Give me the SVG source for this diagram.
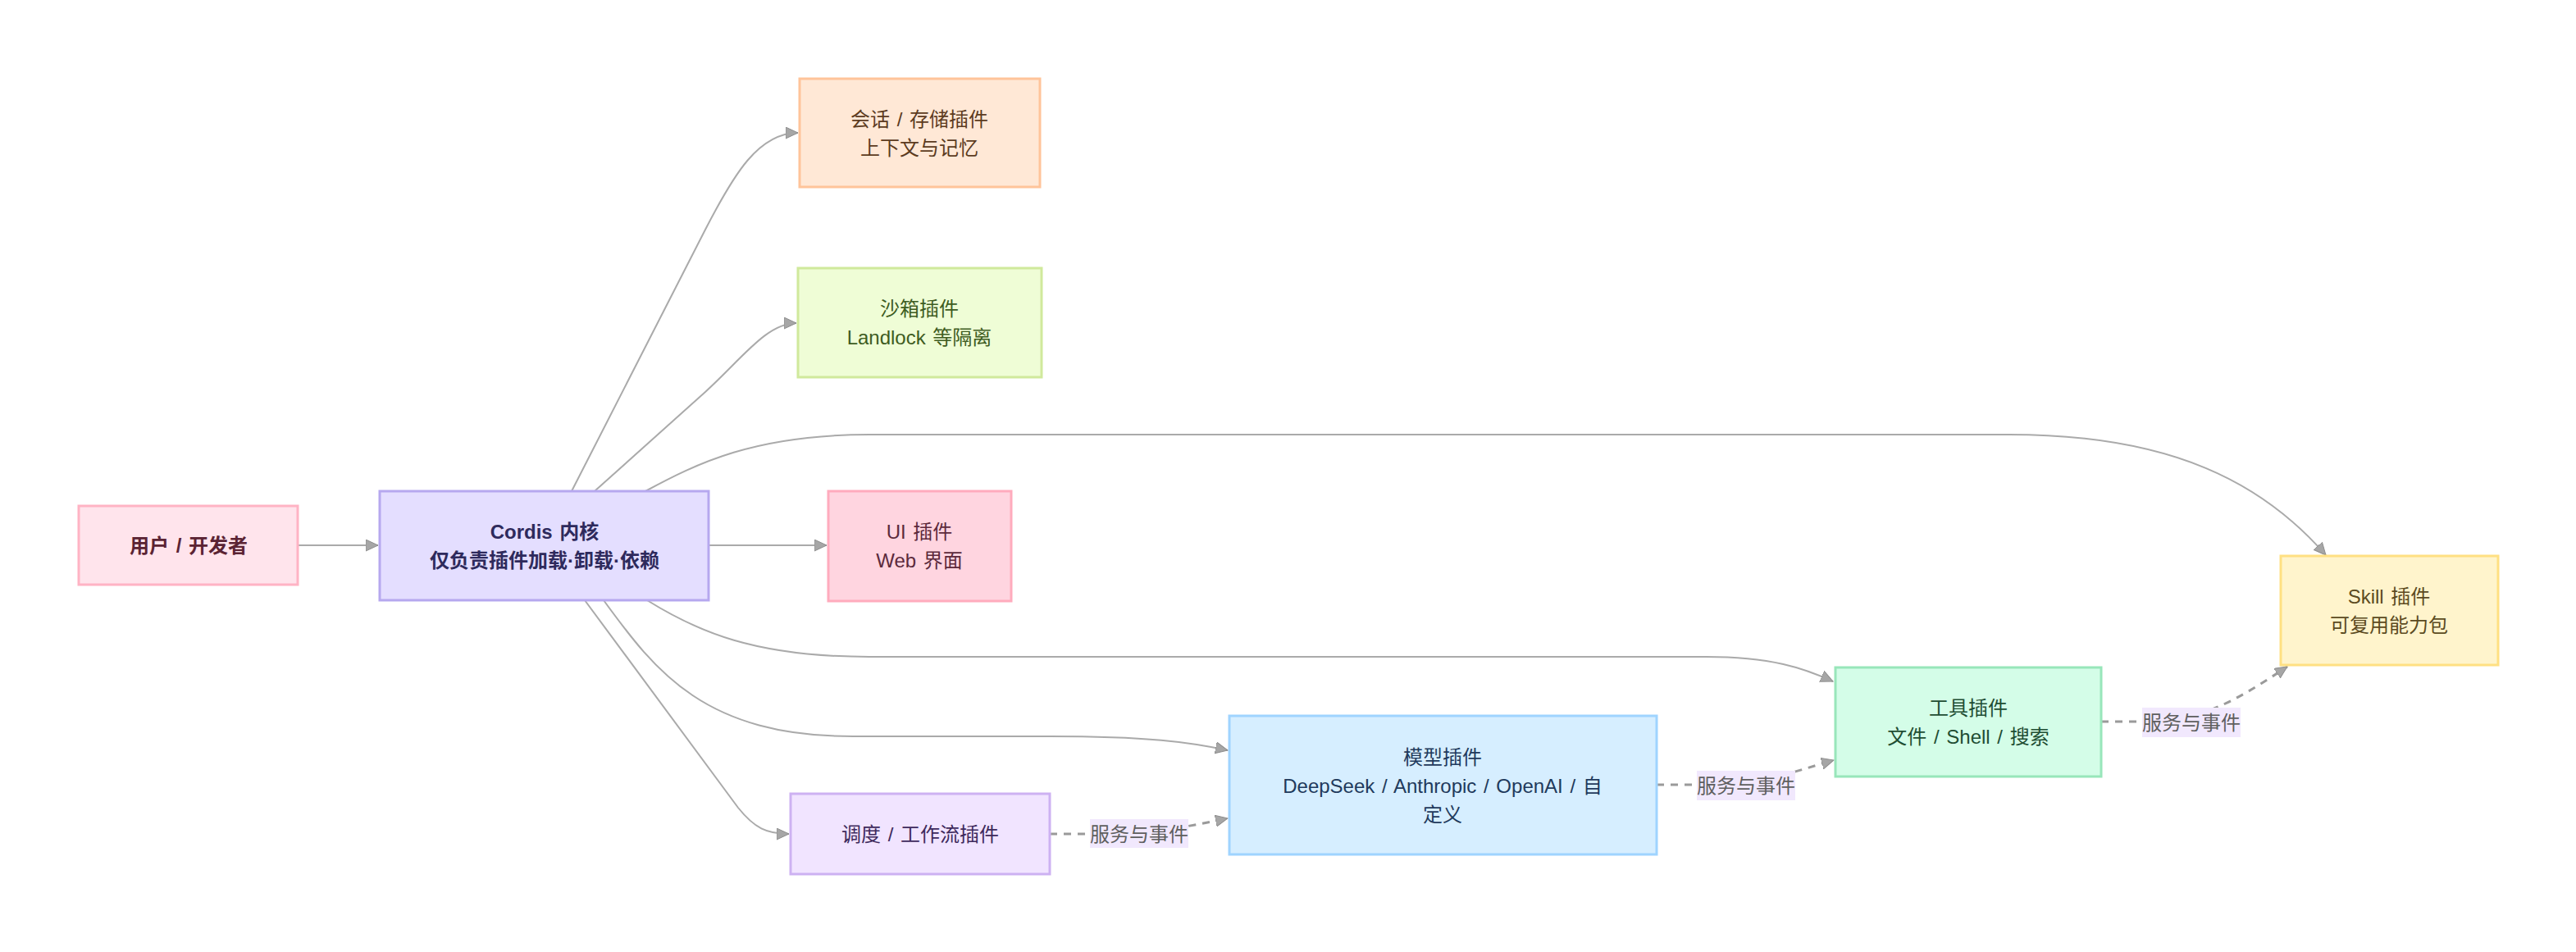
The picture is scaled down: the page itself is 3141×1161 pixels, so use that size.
<svg xmlns="http://www.w3.org/2000/svg" width="3141" height="1161" viewBox="0 0 3141 1161">
<style>
text{font-family:"Liberation Sans","Noto Sans CJK SC",sans-serif;font-size:24px;text-anchor:middle;dominant-baseline:central;word-spacing:2px}
.n rect{stroke-width:3}
.b text{font-weight:bold}
.e{fill:none;stroke:#aaaaaa;stroke-width:2}
.d{fill:none;stroke:#9a9a9a;stroke-width:3;stroke-dasharray:9 8}
.lb{fill:#f1e8fd}
.lt{fill:#5f5f5f}
</style>
<defs>
<marker id="ah" markerUnits="userSpaceOnUse" markerWidth="16" markerHeight="16" refX="15" refY="7" orient="auto">
<path d="M0,0 L15,7 L0,14 z" fill="#a6a6a6" stroke="#8e8e8e" stroke-width="1"/>
</marker>
</defs>
<rect width="3141" height="1161" fill="#ffffff"/>
<g id="connectors">
<path class="e" d="M363,665 L461,665" marker-end="url(#ah)"/>
<path class="e" d="M865,665 L1008,665" marker-end="url(#ah)"/>
<path class="e" d="M697,599 L860,280 C895,212 925,162 973,162" marker-end="url(#ah)"/>
<path class="e" d="M725,599 L860,478 C905,437 935,394 971,394" marker-end="url(#ah)"/>
<path class="e" d="M787,599 C850,565 920,530 1060,530 L2450,530 C2650,530 2760,590 2836,677" marker-end="url(#ah)"/>
<path class="e" d="M789,732 C850,770 920,801 1060,801 L2080,801 C2160,801 2200,815 2235,831" marker-end="url(#ah)"/>
<path class="e" d="M736,732 C800,820 860,898 1040,898 L1280,898 C1400,898 1450,905 1497,915" marker-end="url(#ah)"/>
<path class="e" d="M713,732 L900,985 C920,1010 935,1017 962,1017" marker-end="url(#ah)"/>
<path class="d" d="M1280,1017 L1340,1017 C1400,1017 1440,1010 1497,998" marker-end="url(#ah)"/>
<path class="d" d="M2020,957 L2080,957 C2150,957 2190,940 2236,927" marker-end="url(#ah)"/>
<path class="d" d="M2562,880 L2620,880 C2690,880 2740,845 2789,813" marker-end="url(#ah)"/>
<rect class="lb" x="1329" y="999" width="120" height="35"/>
<text class="lt" x="1389" y="1017">服务与事件</text>
<rect class="lb" x="2069" y="940" width="120" height="36"/>
<text class="lt" x="2129" y="958">服务与事件</text>
<rect class="lb" x="2612" y="863" width="120" height="36"/>
<text class="lt" x="2672" y="881">服务与事件</text>
</g>
<g id="user" class="n b">
<rect x="96" y="617" width="267" height="96" fill="#ffe4ec" stroke="#ffb3c4"/>
<text x="230" y="665" fill="#5b2333">用户 / 开发者</text>
</g>
<g id="core" class="n b">
<rect x="463" y="599" width="401" height="133" fill="#e4deff" stroke="#b6a8ef"/>
<text x="664" y="648" fill="#2e2a5c">Cordis 内核</text>
<text x="664" y="683" fill="#2e2a5c">仅负责插件加载·卸载·依赖</text>
</g>
<g id="session" class="n">
<rect x="975" y="96" width="293" height="132" fill="#ffe8d6" stroke="#ffc49a"/>
<text x="1121" y="145" fill="#5c3b1e">会话 / 存储插件</text>
<text x="1121" y="180" fill="#5c3b1e">上下文与记忆</text>
</g>
<g id="sandbox" class="n">
<rect x="973" y="327" width="297" height="133" fill="#effdd6" stroke="#d0e99c"/>
<text x="1121" y="376" fill="#3e5c1f">沙箱插件</text>
<text x="1121" y="411" fill="#3e5c1f">Landlock 等隔离</text>
</g>
<g id="ui" class="n">
<rect x="1010" y="599" width="223" height="134" fill="#ffd5e0" stroke="#ffabbd"/>
<text x="1121" y="648" fill="#5c2a3c">UI 插件</text>
<text x="1121" y="683" fill="#5c2a3c">Web 界面</text>
</g>
<g id="skill" class="n">
<rect x="2781" y="678" width="265" height="133" fill="#fff4cc" stroke="#ffe082"/>
<text x="2913" y="727" fill="#5c4b1f">Skill 插件</text>
<text x="2913" y="762" fill="#5c4b1f">可复用能力包</text>
</g>
<g id="tools" class="n">
<rect x="2238" y="814" width="324" height="133" fill="#d4fde8" stroke="#98e6ba"/>
<text x="2400" y="863" fill="#1f4d33">工具插件</text>
<text x="2400" y="898" fill="#1f4d33">文件 / Shell / 搜索</text>
</g>
<g id="model" class="n">
<rect x="1499" y="873" width="521" height="169" fill="#d6eeff" stroke="#9fd4ff"/>
<text x="1759" y="923" fill="#1f3a5c">模型插件</text>
<text x="1759" y="958" fill="#1f3a5c">DeepSeek / Anthropic / OpenAI / 自</text>
<text x="1759" y="993" fill="#1f3a5c">定义</text>
</g>
<g id="schedule" class="n">
<rect x="964" y="968" width="316" height="98" fill="#f1e4ff" stroke="#cdb1f2"/>
<text x="1122" y="1017" fill="#3e2a5c">调度 / 工作流插件</text>
</g>
</svg>
